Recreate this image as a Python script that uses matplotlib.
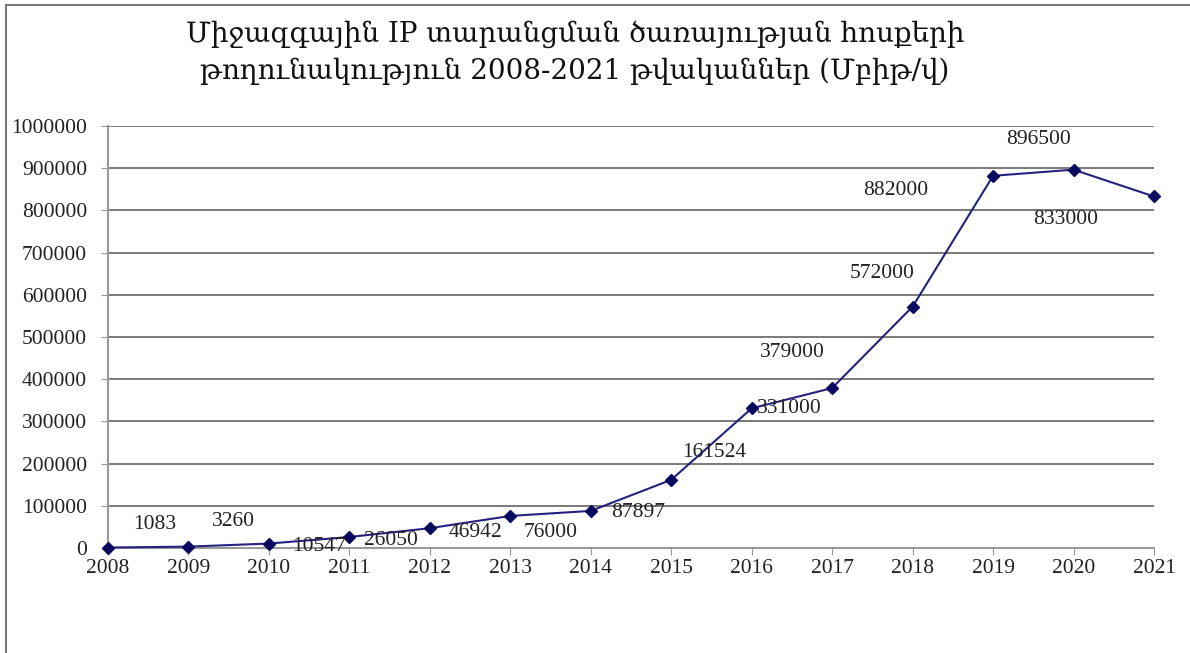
import numpy as np
import matplotlib
matplotlib.use("Agg")
import matplotlib.pyplot as plt
from matplotlib.lines import Line2D

# data
years = [2008, 2009, 2010, 2011, 2012, 2013, 2014, 2015, 2016, 2017, 2018, 2019, 2020, 2021]
traffic = [1083, 3260, 10547, 26050, 46942, 76000, 87897, 161524, 331000, 379000, 572000, 882000, 896500, 833000]
y_ticks = [0, 100000, 200000, 300000, 400000, 500000, 600000, 700000, 800000, 900000, 1000000]

title = "Միջազգային IP տարանցման ծառայության հոսքերի\nթողունակություն 2008-2021 թվականներ (Մբիթ/վ)"

# where each value label sits relative to its point (pixels, right/up)
label_dx = [47, 45, 50, 42, 46, 40, 47, 43, 38, -40, -30, -97, -35, -88]
label_dy = [23, 25, -3, -3, -4, -17, -2, 27, 0, 36, 33, -15, 30, -23]

plt.rcParams['font.family'] = ['Liberation Serif', 'DejaVu Serif']

fig = plt.figure(figsize=(11.9, 6.53), dpi=100)
ax = fig.add_axes([108/1190, 1-548/653, (1154-108)/1190, (548-126)/653])

ax.plot(years, traffic, color="#23237f", linewidth=1.5, marker="D", markersize=6,
        markerfacecolor="#0a0a60", markeredgecolor="#0a0a60", zorder=3, clip_on=False)

for x, v, dx, dy in zip(years, traffic, label_dx, label_dy):
    ax.annotate(str(v), (x, v), xytext=(dx*0.72, dy*0.72), textcoords="offset points",
                ha="center", va="center", fontsize=15.5, color="#222222", zorder=4)

ax.set_xlim(years[0], years[-1])
ax.set_ylim(0, 1000000)
ax.set_xticks(years)
ax.set_yticks(y_ticks)
ax.set_yticklabels([str(t) for t in y_ticks])
ax.yaxis.grid(True, color="#555555", linewidth=1.1)
ax.set_axisbelow(True)
for s in ["top", "right"]:
    ax.spines[s].set_visible(False)
ax.spines["left"].set_color("#999999")
ax.spines["bottom"].set_color("#999999")
ax.spines["left"].set_linewidth(1.5)
ax.spines["bottom"].set_linewidth(1.5)
ax.tick_params(axis="both", labelsize=15.5, colors="#999999", labelcolor="#222222", length=5)
ax.tick_params(axis="y", pad=10)
ax.tick_params(axis="x", pad=3)

fig.text(575/1190, 1-53/653, title, ha="center", va="center", fontsize=20,
         family=['DejaVu Serif', 'DejaVu Sans'], linespacing=1.45, color="#111111")

# outer frame (left and top edges visible in the original)
fig.add_artist(Line2D([6/1190, 6/1190], [0, 1-5/653], transform=fig.transFigure, color="#777777", linewidth=1.5))
fig.add_artist(Line2D([6/1190, 1], [1-5/653, 1-5/653], transform=fig.transFigure, color="#777777", linewidth=1.5))

fig.savefig("out.png", dpi=100)
